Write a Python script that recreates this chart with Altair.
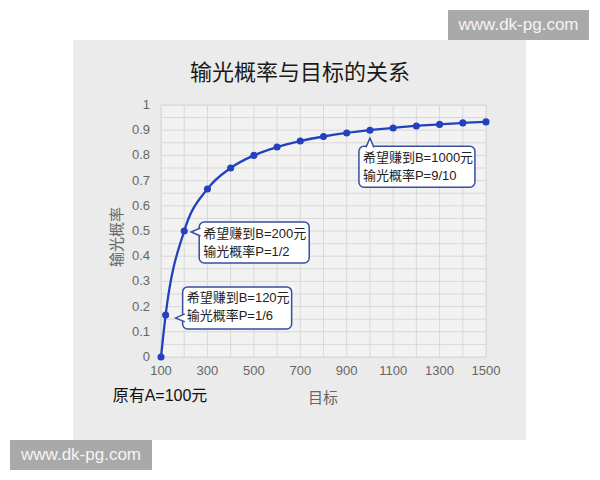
import altair as alt
import pandas as pd

# ---- data ----
targets = [100, 120, 200, 300, 400, 500, 600, 700, 800, 900, 1000, 1100, 1200, 1300, 1400, 1500]
probs = [0, 0.167, 0.5, 0.667, 0.75, 0.8, 0.833, 0.857, 0.875, 0.889, 0.9, 0.909, 0.917, 0.923, 0.929, 0.933]
x_labels = [100, 300, 500, 700, 900, 1100, 1300, 1500]
y_labels = [0, 0.1, 0.2, 0.3, 0.4, 0.5, 0.6, 0.7, 0.8, 0.9, 1]
x_grid = [100, 200, 300, 400, 500, 600, 700, 800, 900, 1000, 1100, 1200, 1300, 1400, 1500]
y_grid = [0, 0.05, 0.1, 0.15, 0.2, 0.25, 0.3, 0.35, 0.4, 0.45, 0.5, 0.55, 0.6, 0.65, 0.7,
          0.75, 0.8, 0.85, 0.9, 0.95, 1]
title_text = "输光概率与目标的关系"
x_title = "目标"
y_title = "输光概率"
note_text = "原有A=100元"
watermark = "www.dk-pg.com"
callout_B = [1000, 200, 120]
callout_P = [0.9, 0.5, 0.167]
callout_line1 = ["希望赚到B=1000元", "希望赚到B=200元", "希望赚到B=120元"]
callout_line2 = ["输光概率P=9/10", "输光概率P=1/2", "输光概率P=1/6"]

# ---- styling ----
W, H = 325, 252
FONT = "Liberation Sans, Noto Sans CJK SC"
LINE = "#2441bd"
BORDER = "#34509e"
PANEL = "#ebebeb"
GRID = "#d8d8d8"
LABEL = "#666"

df = pd.DataFrame({"target": targets, "prob": probs})
one = pd.DataFrame({"k": [0]})

xs = alt.Scale(domain=[100, 1500], nice=False, zero=False)
ys = alt.Scale(domain=[0, 1], nice=False)

vgrid = alt.Chart(pd.DataFrame({"g": x_grid})).mark_rule(color=GRID, strokeWidth=1).encode(
    x=alt.X("g:Q", scale=xs, axis=None))
hgrid = alt.Chart(pd.DataFrame({"g": y_grid})).mark_rule(color=GRID, strokeWidth=1).encode(
    y=alt.Y("g:Q", scale=ys, axis=None))

xlab = alt.Chart(pd.DataFrame({"v": x_labels})).mark_text(
    fontSize=13, font=FONT, color=LABEL, align="center", baseline="middle").encode(
    x=alt.X("v:Q", scale=xs, axis=None), y=alt.value(H + 14),
    text=alt.Text("v:Q", format="d"))
ylab = alt.Chart(pd.DataFrame({"v": y_labels})).mark_text(
    fontSize=13, font=FONT, color=LABEL, align="right", baseline="middle").encode(
    y=alt.Y("v:Q", scale=ys, axis=None), x=alt.value(-11),
    text=alt.Text("v:Q", format="~g"))

line = alt.Chart(df).mark_line(color=LINE, strokeWidth=2.3, interpolate="monotone").encode(
    x=alt.X("target:Q", scale=xs, axis=None),
    y=alt.Y("prob:Q", scale=ys, axis=None),
)
pts = alt.Chart(df).mark_point(filled=True, color=LINE, size=50, opacity=1).encode(
    x=alt.X("target:Q", scale=xs, axis=None),
    y=alt.Y("prob:Q", scale=ys, axis=None),
)


def strip(x1, x2, y1, y2):
    return alt.Chart(one).mark_rect(fill="white").encode(
        x=alt.value(x1), x2=alt.value(x2), y=alt.value(y1), y2=alt.value(y2))


strips = [
    strip(-200, 500, -200, -65),
    strip(-200, 500, 335, 500),
    strip(-200, -88, -200, 500),
    strip(365, 500, -200, 500),
]


def callout(i, box, ptr, angle):
    b, p = callout_B[i], callout_P[i]
    base = alt.Chart(one)
    enc = dict(x=alt.datum(b), y=alt.datum(p))
    rect = base.mark_rect(fill="white", stroke=BORDER, strokeWidth=1.5, cornerRadius=5,
                          xOffset=box[0], x2Offset=box[1], yOffset=box[2], y2Offset=box[3]).encode(
        x=alt.datum(b), x2=alt.datum(b), y=alt.datum(p), y2=alt.datum(p))
    pointer = base.mark_point(shape="M -1 1.3 L 0 -1 L 1 1.3", size=64, filled=True,
                              fill="white", stroke=BORDER, strokeWidth=1.5, opacity=1,
                              xOffset=ptr[0], yOffset=ptr[1], angle=angle).encode(**enc)
    t1 = base.mark_text(text=callout_line1[i], align="left", baseline="middle", fontSize=13,
                        font=FONT, color="#222", xOffset=box[0] + 4,
                        yOffset=box[2] + 11.5).encode(**enc)
    t2 = base.mark_text(text=callout_line2[i], align="left", baseline="middle", fontSize=13,
                        font=FONT, color="#222", xOffset=box[0] + 4,
                        yOffset=box[2] + 29.5).encode(**enc)
    return [rect, pointer, t1, t2]


callouts = (callout(0, (-11, 105, 16, 57), (0, 12), 0)
            + callout(1, (15, 125, -9, 32), (11, 1), 270)
            + callout(2, (17, 126, -28, 14), (14, 3), 270))


def label(text, x, y, size, color, angle=0, weight="normal"):
    return alt.Chart(one).mark_text(text=text, align="center", baseline="middle",
                                    fontSize=size, font=FONT, color=color, angle=angle,
                                    fontWeight=weight).encode(
        x=alt.value(x), y=alt.value(y))


texts = [
    label(title_text, 139, -32, 22, "#1a1a1a"),
    label(x_title, 162, 293, 15, LABEL),
    label(y_title, -44, 132, 15, LABEL, angle=270),
    label(note_text, -1, 291, 16, "#111"),
]


def wm(x1, x2, y1, y2):
    box = alt.Chart(one).mark_rect(fill="#a9a9a9").encode(
        x=alt.value(x1), x2=alt.value(x2), y=alt.value(y1), y2=alt.value(y2))
    t = alt.Chart(one).mark_text(text=watermark, align="center", baseline="middle",
                                 fontSize=17, font=FONT, color="#f4f4f4").encode(
        x=alt.value((x1 + x2) / 2), y=alt.value((y1 + y2) / 2))
    return [box, t]


marks = wm(287, 428, -95, -65) + wm(-151, -9, 335, 365)

chart = alt.layer(vgrid, hgrid, xlab, ylab, line, pts, *strips, *callouts, *texts, *marks).properties(
    width=W, height=H,
    padding={"left": 153, "top": 97, "right": 106, "bottom": 115},
    autosize=alt.AutoSizeParams(type="none"),
).configure(background=PANEL).configure_view(fill="#f2f2f2", stroke="#dedede")

chart.save("out.html", embed_options={"renderer": "svg", "actions": False})
